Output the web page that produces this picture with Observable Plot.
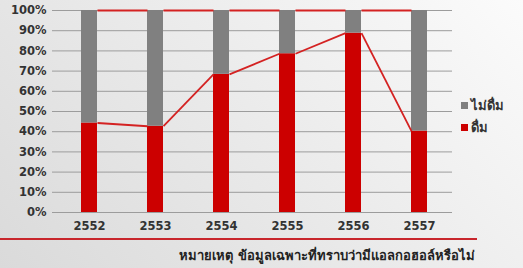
<!DOCTYPE html>
<html>
<head>
<meta charset="utf-8">
<script src="https://cdn.jsdelivr.net/npm/d3@7"></script>
<script src="https://cdn.jsdelivr.net/npm/@observablehq/plot@0.6"></script>
<style>
  html, body { margin: 0; padding: 0; }
  #wrap {
    position: relative; width: 523px; height: 268px; overflow: hidden;
    background: linear-gradient(225deg, #fbfbfb 0%, #ececec 45%, #dadada 100%);
    font-family: "DejaVu Sans", sans-serif;
  }
  #chart svg { display: block; background: transparent; }
  #legend { position: absolute; left: 461px; top: 94px; font-weight: bold; font-size: 13px; color: #333; }
  #legend div { display: flex; align-items: center; height: 22px; }
  #legend span.sw { display: inline-block; width: 7px; height: 7px; margin-right: 3px; }
  #caption {
    position: absolute; left: 0; top: 238px; width: 477px;
    border-top: 2px solid #c8262c;
    text-align: right; font-size: 13px; font-weight: bold; color: #222;
    padding-top: 5px; box-sizing: border-box; padding-right: 2px;
  }
</style>
</head>
<body>
<div id="wrap">
  <div id="chart"></div>
  <div id="legend"></div>
  <div id="caption"></div>
</div>
<script>
const years = ["2552", "2553", "2554", "2555", "2556", "2557"];
const drink = [44.3, 42.7, 68.4, 78.6, 88.8, 40.3];
const notDrink = [55.7, 57.3, 31.6, 21.4, 11.2, 59.7];
const seriesNames = ["ดื่ม", "ไม่ดื่ม"];
const seriesColors = ["#cc0000", "#808080"];
const yTicks = [0, 10, 20, 30, 40, 50, 60, 70, 80, 90, 100];
const captionText = "หมายเหตุ  ข้อมูลเฉพาะที่ทราบว่ามีแอลกอฮอล์หรือไม่";

const rows = [];
years.forEach((y, i) => {
  rows.push({year: y, series: seriesNames[0], value: drink[i]});
  rows.push({year: y, series: seriesNames[1], value: notDrink[i]});
});
const segs = [];
for (let i = 0; i < years.length - 1; i++) {
  segs.push({x1: years[i], x2: years[i + 1], y1: drink[i], y2: drink[i + 1]});
  segs.push({x1: years[i], x2: years[i + 1], y1: drink[i] + notDrink[i], y2: drink[i + 1] + notDrink[i + 1]});
}

function edgeRender(index, scales, values, dimensions, context, next) {
  if (!next) return null;
  const h = scales.x && scales.x.bandwidth ? scales.x.bandwidth() / 2 : 0;
  const x1 = Array.from(values.x1, v => v + h);
  const x2 = Array.from(values.x2, v => v - h);
  return next(index, scales, {...values, x1, x2}, dimensions, context);
}

const pad = 0.758;
const plot = Plot.plot({
  width: 523,
  height: 236,
  marginLeft: 55,
  marginRight: 71,
  marginTop: 10,
  marginBottom: 24,
  style: {fontFamily: "DejaVu Sans, sans-serif", fontSize: "11.5px", fontWeight: "bold", color: "#333", background: "transparent"},
  x: {domain: years, paddingInner: pad, paddingOuter: pad / 2, label: null},
  y: {domain: [0, 100], label: null},
  color: {domain: seriesNames, range: seriesColors},
  marks: [
    Plot.ruleY(yTicks, {stroke: "#9c9c9c", strokeWidth: 1, insetLeft: -3}),
    Plot.barY(rows, {x: "year", y: "value", fill: "series"}),
    Plot.link(segs, {x1: "x1", x2: "x2", y1: "y1", y2: "y2", stroke: "#d42222", strokeWidth: 1.8, render: edgeRender}),
    Plot.axisY(yTicks, {tickSize: 0, tickPadding: 9, tickFormat: d => d + "%", label: null}),
    Plot.axisX({tickSize: 0, tickPadding: 9, label: null})
  ]
});
document.getElementById("chart").appendChild(plot);

const legend = document.getElementById("legend");
[1, 0].forEach(i => {
  const row = document.createElement("div");
  const sw = document.createElement("span");
  sw.className = "sw";
  sw.style.background = seriesColors[i];
  row.appendChild(sw);
  row.appendChild(document.createTextNode(seriesNames[i]));
  legend.appendChild(row);
});
document.getElementById("caption").textContent = captionText;
</script>
</body>
</html>
